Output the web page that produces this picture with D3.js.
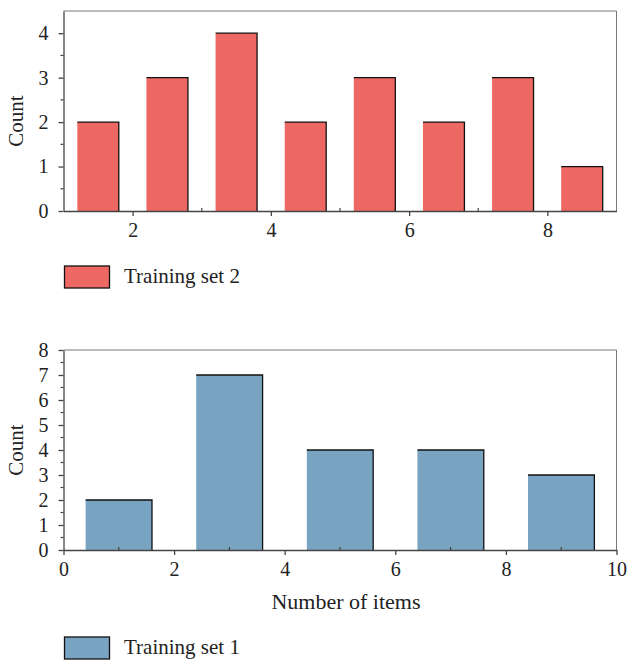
<!DOCTYPE html>
<html>
<head>
<meta charset="utf-8">
<script src="https://cdn.jsdelivr.net/npm/d3@7"></script>
<style>
  body { margin: 0; background: #fff; }
  text { font-family: "Liberation Serif", "DejaVu Serif", serif; fill: #222; }
</style>
</head>
<body>
<svg id="chart" width="627" height="660"></svg>
<script>
// Training set 2 (top panel): bins of width 1 starting at 1
const set2Bins = [1, 2, 3, 4, 5, 6, 7, 8];
const set2Counts = [2, 3, 4, 2, 3, 2, 3, 1];
// Training set 1 (bottom panel): bins of width 2 starting at 0
const set1Bins = [0, 2, 4, 6, 8];
const set1Counts = [2, 7, 4, 4, 3];

const set2Ticks = [2, 4, 6, 8];
const set1Ticks = [0, 2, 4, 6, 8, 10];

const svg = d3.select('#chart');

// draw one histogram panel
const panel = (opts) => {
  const { top, bottom, xDom, yDom, bins, counts, binW, color, xTicks, xMinor, yTicks, yMinor, countY, legendY, label } = opts;
  const left = 63.5, right = 616.5;

  const x = d3.scaleLinear().domain(xDom).range([left, right]);
  const y = d3.scaleLinear().domain(yDom).range([bottom, top]);

  const g = svg.append('g');

  // frame top + right
  g.append('path')
    .attr('d', `M${left},${top}H${right}V${bottom}`)
    .attr('fill', 'none')
    .attr('stroke', '#777')
    .attr('stroke-width', 1);

  const data = bins.map((b, i) => ({ x0: b + binW * 0.2, x1: b + binW * 0.8, v: counts[i] }));

  // bars: fill, then black top and right edge
  g.selectAll('.bar').data(data).enter()
    .append('rect')
      .attr('class', 'bar')
      .attr('x', d => x(d.x0))
      .attr('y', d => y(d.v))
      .attr('width', d => x(d.x1) - x(d.x0))
      .attr('height', d => y(0) - y(d.v))
      .attr('fill', color);

  g.selectAll('.edge').data(data).enter()
    .append('path')
      .attr('class', 'edge')
      .attr('d', d => `M${x(d.x0)},${y(d.v)}H${x(d.x1)}V${y(0)}`)
      .attr('fill', 'none')
      .attr('stroke', '#111')
      .attr('stroke-width', 1.3);

  // x axis: major ticks outward, minor inward
  const xAxis = g.append('g').attr('transform', `translate(0,${bottom})`)
    .call(d3.axisBottom(x).tickValues(xTicks).tickFormat(d3.format('d'))
      .tickSize(5).tickPadding(7).tickSizeOuter(0));
  xAxis.select('.domain').attr('stroke', '#444').attr('stroke-width', 1.3);
  xAxis.selectAll('.tick line').attr('stroke', '#444').attr('stroke-width', 1.3);
  xAxis.selectAll('.tick text').attr('font-size', 20).attr('font-family', '"Liberation Serif", serif').attr('fill', '#222');
  g.selectAll('.xminor').data(xMinor).enter()
    .append('line')
      .attr('x1', d => x(d)).attr('x2', d => x(d))
      .attr('y1', bottom).attr('y2', bottom - 3)
      .attr('stroke', '#444').attr('stroke-width', 1.2);

  // y axis
  const yAxis = g.append('g').attr('transform', `translate(${left},0)`)
    .call(d3.axisLeft(y).tickValues(yTicks).tickFormat(d3.format('d'))
      .tickSize(5).tickPadding(10).tickSizeOuter(0));
  yAxis.select('.domain').attr('stroke', '#444').attr('stroke-width', 1.3);
  yAxis.selectAll('.tick line').attr('stroke', '#444').attr('stroke-width', 1.3);
  yAxis.selectAll('.tick text').attr('font-size', 20).attr('font-family', '"Liberation Serif", serif').attr('fill', '#222');
  g.selectAll('.yminor').data(yMinor).enter()
    .append('line')
      .attr('x1', left).attr('x2', left - 3)
      .attr('y1', d => y(d)).attr('y2', d => y(d))
      .attr('stroke', '#444').attr('stroke-width', 1.2);

  g.append('text')
    .attr('transform', `translate(23,${countY}) rotate(-90)`)
    .attr('text-anchor', 'middle')
    .attr('font-size', 21)
    .text('Count');

  // legend
  g.append('rect')
    .attr('x', 64.5).attr('y', legendY)
    .attr('width', 45).attr('height', 22)
    .attr('fill', color)
    .attr('stroke', '#111').attr('stroke-width', 1.3);
  g.append('text')
    .attr('x', 124).attr('y', legendY + 17)
    .attr('font-size', 21)
    .text(label);

  return { x, y };
};

panel({
  top: 11, bottom: 211, xDom: [1, 9], yDom: [0, 4.5],
  bins: set2Bins, counts: set2Counts, binW: 1, color: '#EE6863',
  xTicks: set2Ticks, xMinor: [3, 5, 7],
  yTicks: [0, 1, 2, 3, 4], yMinor: [0.5, 1.5, 2.5, 3.5],
  countY: 121, legendY: 266, label: 'Training set 2'
});

panel({
  top: 350, bottom: 550, xDom: [0, 10], yDom: [0, 8],
  bins: set1Bins, counts: set1Counts, binW: 2, color: '#78A4C2',
  xTicks: set1Ticks, xMinor: [1, 3, 5, 7, 9],
  yTicks: d3.range(0, 9), yMinor: d3.range(0.5, 8, 1),
  countY: 450, legendY: 637, label: 'Training set 1'
});

svg.append('text')
  .attr('x', 346).attr('y', 609)
  .attr('text-anchor', 'middle')
  .attr('font-size', 22)
  .text('Number of items');
</script>
</body>
</html>
